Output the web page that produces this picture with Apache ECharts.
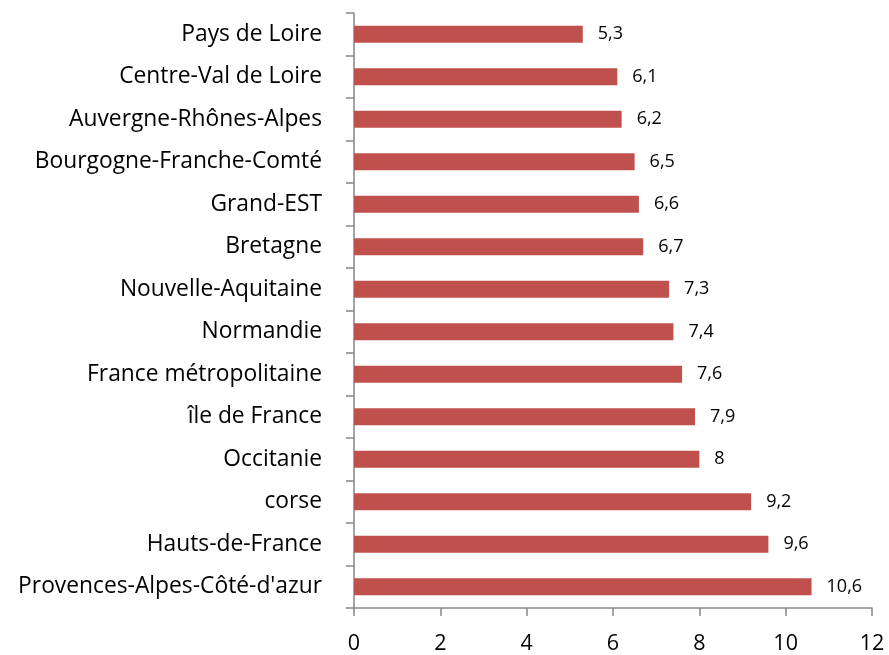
<!DOCTYPE html>
<html>
<head>
<meta charset="utf-8">
<script src="https://cdn.jsdelivr.net/npm/echarts@6/dist/echarts.min.js"></script>
<style>
  html, body { margin: 0; padding: 0; background: #fff; }
  #chart { width: 889px; height: 655px; }
</style>
</head>
<body>
<div id="chart"></div>
<script>
// régions, de bas en haut
const regions = [
  "Provences-Alpes-Côté-d'azur", "Hauts-de-France", "corse", "Occitanie",
  "île de France", "France métropolitaine", "Normandie", "Nouvelle-Aquitaine",
  "Bretagne", "Grand-EST", "Bourgogne-Franche-Comté", "Auvergne-Rhônes-Alpes",
  "Centre-Val de Loire", "Pays de Loire"
];
const values = [10.6, 9.6, 9.2, 8, 7.9, 7.6, 7.4, 7.3, 6.7, 6.6, 6.5, 6.2, 6.1, 5.3];
const xTicks = [0, 2, 4, 6, 8, 10, 12];

const chart = echarts.init(document.getElementById("chart"));
const axisGray = "#868686";
const font = "'Open Sans', sans-serif";

chart.setOption({
  animation: false,
  grid: { left: 354, right: 17, top: 13, bottom: 46, containLabel: false },
  xAxis: {
    type: "value",
    min: xTicks[0],
    max: xTicks[xTicks.length - 1],
    interval: 2,
    axisLine: { show: true, lineStyle: { color: axisGray, width: 1.5 } },
    axisTick: { show: true, length: 8, lineStyle: { color: axisGray, width: 1.5 } },
    splitLine: { show: false },
    axisLabel: { color: "#000", fontSize: 21.5, fontFamily: font, margin: 25 }
  },
  yAxis: {
    type: "category",
    data: regions,
    axisLine: { show: true, lineStyle: { color: axisGray, width: 1.5 } },
    axisTick: { show: true, length: 8, lineStyle: { color: axisGray, width: 1.5 } },
    axisLabel: { color: "#000", fontSize: 22.8, fontFamily: font, margin: 32 }
  },
  series: [{
    type: "bar",
    data: values,
    barWidth: 17,
    itemStyle: { color: "#C0504D" },
    label: {
      show: true,
      position: "right",
      distance: 15,
      color: "#000",
      fontSize: 18,
      fontFamily: font,
      formatter: (p) => String(p.value).replace(".", ",")
    }
  }]
});
</script>
</body>
</html>
